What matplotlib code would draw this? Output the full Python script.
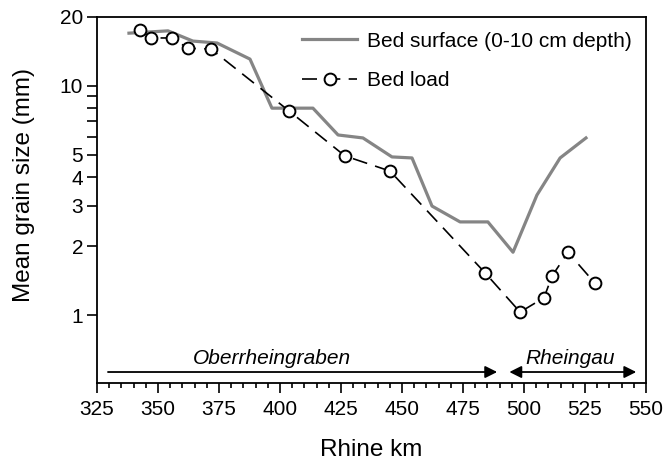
import matplotlib
matplotlib.use("Agg")
import matplotlib.pyplot as plt
from matplotlib.ticker import FixedLocator, NullFormatter, FixedFormatter

plt.rcParams['font.family'] = ['Liberation Sans', 'DejaVu Sans']

# Bed surface (0-10 cm depth)
surf_km = [338.1, 354.1, 364.3, 374.2, 387.7, 396.7, 413.5, 423.8, 434.0, 445.9,
           454.1, 462.3, 473.8, 485.2, 495.5, 505.3, 514.8, 525.4]
surf_d = [17.0, 17.4, 15.7, 15.4, 13.1, 8.0, 8.0, 6.11, 5.93, 4.90,
          4.85, 2.99, 2.55, 2.55, 1.88, 3.34, 4.85, 5.93]

# Bed load
load_km = [342.6, 347.1, 355.7, 362.3, 371.7, 403.7, 426.6, 445.1, 484.0,
           498.4, 508.2, 511.5, 518.0, 529.0]
load_d = [17.6, 16.2, 16.2, 14.6, 14.5, 7.78, 4.95, 4.25, 1.53,
          1.03, 1.19, 1.48, 1.88, 1.38]

ytick_vals = [1, 2, 3, 4, 5, 10, 20]
ytick_labels = ['1', '2', '3', '4', '5', '10', '20']
yminor_vals = [6, 7, 8, 9]

fig = plt.figure(figsize=(6.66, 4.63), dpi=100)
ax = fig.add_axes([97/666, 1 - 383/463, (646-97)/666, (383-17)/463])

ax.plot(surf_km, surf_d, color='#858585', lw=2.3, label='Bed surface (0-10 cm depth)', zorder=2)
ax.plot(load_km, load_d, color='black', lw=1.2, dashes=(9, 5), marker='o', ms=8.5,
        mfc='white', mec='black', mew=1.4, label='Bed load', zorder=3)

ax.set_yscale('log')
ax.set_xlim(325, 550)
ax.set_ylim(0.505, 20)

ax.xaxis.set_major_locator(FixedLocator(list(range(325, 551, 25))))
ax.xaxis.set_minor_locator(FixedLocator(list(range(325, 551, 5))))
ax.yaxis.set_major_locator(FixedLocator(ytick_vals))
ax.yaxis.set_major_formatter(FixedFormatter(ytick_labels))
ax.yaxis.set_minor_locator(FixedLocator(yminor_vals))
ax.yaxis.set_minor_formatter(NullFormatter())

ax.tick_params(axis='both', which='major', labelsize=15, width=1.2, direction='out')
ax.tick_params(axis='x', which='major', length=7.2, pad=5)
ax.tick_params(axis='x', which='minor', length=3.6, width=1.2)
ax.tick_params(axis='y', which='major', length=7, pad=3)
ax.tick_params(axis='y', which='minor', length=7, width=1.2)

for s in ax.spines.values():
    s.set_linewidth(1.3)

ax.set_xlabel('Rhine km', fontsize=17.5)
ax.xaxis.set_label_coords(0.5, -0.153)
ax.set_ylabel('Mean grain size (mm)', fontsize=17.5, va='center')
ax.yaxis.set_label_coords(-0.133, 0.541)

leg = ax.legend(loc='upper right', frameon=False, fontsize=15, handlelength=2.65,
                borderaxespad=0.4, labelspacing=1.0, handletextpad=0.45,
                borderpad=0.3)

# Region arrows
ax.annotate('', xy=(489, 0.564), xytext=(329.5, 0.564),
            arrowprops=dict(arrowstyle='-|>', color='black', lw=1.3,
                            mutation_scale=18, shrinkA=0, shrinkB=0))
ax.annotate('', xy=(546, 0.564), xytext=(494, 0.564),
            arrowprops=dict(arrowstyle='<|-|>', color='black', lw=1.3,
                            mutation_scale=18, shrinkA=0, shrinkB=0))
ax.text(396.5, 0.645, 'Oberrheingraben', style='italic', fontsize=15, ha='center', va='center')
ax.text(519, 0.645, 'Rheingau', style='italic', fontsize=15, ha='center', va='center')

fig.savefig('out.png', dpi=100)
